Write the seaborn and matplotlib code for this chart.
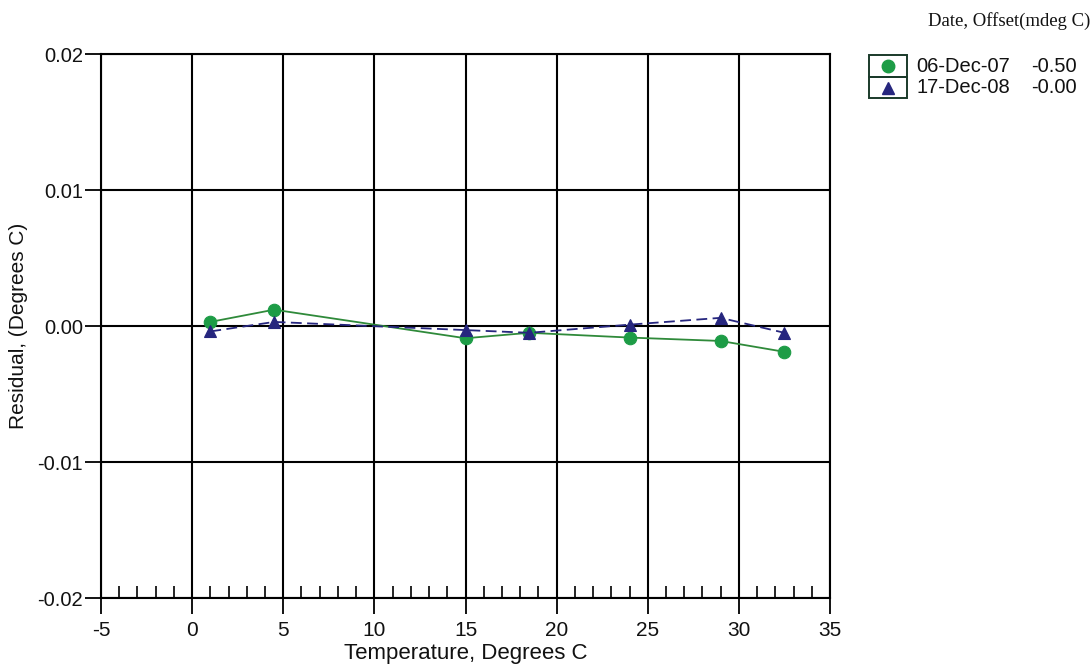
import matplotlib
matplotlib.use("Agg")
import matplotlib.pyplot as plt
import numpy as np
import pandas as pd
import seaborn as sns
from matplotlib.lines import Line2D
from matplotlib.patches import Rectangle
from matplotlib.ticker import MultipleLocator

# Calibration residuals by bath temperature
temps = [1.0, 4.5, 15.0, 18.5, 24.0, 29.0, 32.5]
resid_dec07 = [0.0003, 0.0012, -0.0009, -0.0005, -0.00085, -0.0011, -0.0019]
resid_dec08 = [-0.0004, 0.0003, -0.0003, -0.0005, 0.0001, 0.0006, -0.0005]

dates = ["06-Dec-07", "17-Dec-08"]
offsets = ["-0.50", "-0.00"]
x_ticks = [-5, 0, 5, 10, 15, 20, 25, 30, 35]
y_ticks = [-0.02, -0.01, 0.00, 0.01, 0.02]

line_colors = {"06-Dec-07": "#2f8a3a", "17-Dec-08": "#26267e"}
marker_colors = {"06-Dec-07": "#1d9c46", "17-Dec-08": "#26267e"}
marker_shapes = {"06-Dec-07": "o", "17-Dec-08": "^"}
dash_styles = {"06-Dec-07": "", "17-Dec-08": (6, 3)}
layer = {"06-Dec-07": 5, "17-Dec-08": 6}

sns.set_theme(style="white")
plt.rcParams["font.family"] = ["Liberation Sans", "DejaVu Sans"]

W, H = 1092, 664
fig = plt.figure(figsize=(W / 100, H / 100), dpi=100)
ax = fig.add_axes([101 / W, 1 - 598 / H, (830 - 101) / W, (598 - 54) / H])

df = pd.DataFrame({
    "temp": temps + temps,
    "resid": resid_dec07 + resid_dec08,
    "date": [dates[0]] * len(temps) + [dates[1]] * len(temps),
})

sns.lineplot(
    data=df, x="temp", y="resid", hue="date", style="date",
    hue_order=dates, style_order=dates,
    palette=line_colors, markers=marker_shapes, dashes=dash_styles,
    legend=False, ax=ax, linewidth=1.3, markersize=9,
)
for line, d in zip(ax.lines, dates):
    line.set_markerfacecolor(marker_colors[d])
    line.set_markeredgecolor(marker_colors[d])
    line.set_markeredgewidth(0.8)
    line.set_zorder(layer[d])

ax.set_xlim(-5, 35)
ax.set_ylim(-0.02, 0.02)
ax.set_xticks(x_ticks)
ax.set_xticklabels([str(v) for v in x_ticks])
ax.set_yticks(y_ticks)
ax.set_yticklabels([f"{v:.2f}" for v in y_ticks])
ax.xaxis.set_minor_locator(MultipleLocator(1))

ax.grid(True, which="major", color="black", linewidth=1.5)
ax.set_axisbelow(True)
for s in ax.spines.values():
    s.set_color("black")
    s.set_linewidth(1.5)

ax.tick_params(which="major", direction="out", length=11.5, width=1.3,
               color="black", bottom=True, left=True, top=False, right=False)
ax.tick_params(axis="x", which="major", labelsize=15, pad=5, labelcolor="#111111")
ax.tick_params(axis="y", which="major", labelsize=14.5, pad=1.5, labelcolor="#111111")
ax.tick_params(axis="x", which="minor", direction="in", length=9, width=1.2,
               color="black", bottom=True, top=False)
ax.tick_params(axis="y", which="minor", left=False, right=False)

ax.set_xlabel("Temperature, Degrees C", fontsize=16, labelpad=2, color="#111111")
ax.set_ylabel("Residual, (Degrees C)", fontsize=15, labelpad=7, color="#111111")

# Legend block on the right
def fx(px):
    return px / W

def fy(py):
    return 1 - py / H

fig.text(fx(1090), fy(21), "Date, Offset(mdeg C)", family="Liberation Serif",
         fontsize=13.5, ha="right", va="center", color="#111111")

rows = [(55, 77), (77, 98)]
for (top, bot), d, off in zip(rows, dates, offsets):
    fig.add_artist(Rectangle((fx(869), fy(bot)), fx(907) - fx(869), fy(top) - fy(bot),
                             transform=fig.transFigure, fill=False,
                             edgecolor="#1a3a2a", linewidth=1.4))
    cy = (top + bot) / 2
    fig.add_artist(Line2D([fx(888)], [fy(cy)], transform=fig.transFigure,
                          marker=marker_shapes[d], markersize=9, linestyle="none",
                          markerfacecolor=marker_colors[d],
                          markeredgecolor=marker_colors[d]))
    fig.text(fx(916), fy(cy), d, fontsize=14.5, ha="left", va="center", color="#111111")
    fig.text(fx(1031), fy(cy), off, fontsize=14.5, ha="left", va="center", color="#111111")

fig.savefig("out.png", dpi=100)
